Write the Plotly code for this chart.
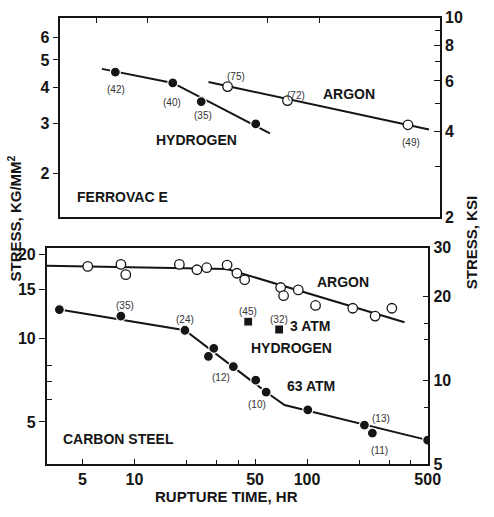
import math
import plotly.graph_objects as go

# ---------------- data ----------------
# Carbon steel (bottom panel)
cs_argon_time = [5.36, 8.34, 8.9, 18.2, 23.0, 26.2, 34.4, 39.2, 43.5, 70.3, 73.1, 88.9, 112, 184, 248, 310]
cs_argon_stress = [18.1, 18.4, 16.9, 18.4, 17.6, 17.9, 18.3, 17.1, 16.2, 15.2, 14.2, 14.9, 13.1, 12.8, 12.0, 12.8]
cs_argon_fit_time = [3.1, 34.4, 367]
cs_argon_fit_stress = [18.2, 17.7, 11.4]

cs_h63_time = [3.67, 8.34, 19.6, 28.8, 26.8, 37.4, 50.4, 57.9, 101, 215, 239, 500]
cs_h63_stress = [12.66, 12.0, 10.67, 9.19, 8.6, 7.9, 7.06, 6.4, 5.52, 4.87, 4.56, 4.3]
cs_h63_labels = ["", "(35)", "(24)", "", "", "(12)", "", "(10)", "", "(13)", "(11)", ""]
cs_h63_fit_time = [3.67, 19.6, 57.9, 74, 500]
cs_h63_fit_stress = [12.66, 10.67, 6.4, 5.75, 4.3]

cs_h3_time = [45.6, 68.9]
cs_h3_stress = [11.46, 10.74]
cs_h3_labels = ["(45)", "(32)"]

# Ferrovac E (top panel)
fe_h_time = [6.48, 14.0, 20.5, 42.6]
fe_h_stress = [4.53, 4.15, 3.57, 2.98]
fe_h_labels = ["(42)", "(40)", "(35)", ""]
fe_h_fit_time = [5.41, 14.0, 51.5]
fe_h_fit_stress = [4.65, 4.15, 2.76]

fe_argon_time = [29.2, 65.2, 328]
fe_argon_stress = [4.03, 3.60, 2.96]
fe_argon_labels = ["(75)", "(72)", "(49)"]
fe_argon_fit_time = [22.6, 435]
fe_argon_fit_stress = [4.18, 2.85]

# axis ticks
time_ticks = [5, 10, 50, 100, 500]
time_minor = [20, 30, 40, 200, 300, 400]
cs_kg_ticks = [5, 10, 15, 20]
cs_kg_minor = [6, 7, 8]
cs_ksi_ticks = [5, 10, 20, 30]
cs_ksi_minor = [8, 14, 16]
fe_kg_ticks = [2, 3, 4, 5, 6]
fe_ksi_ticks = [2, 4, 6, 8, 10]
fe_ksi_minor = [3, 5, 7, 9]

KSI_PER_KG = 1.422
time_range = [3.1, 505]
cs_ksi_range = [5, 30]
fe_ksi_range = [2, 10]
cs_kg_range = [v / KSI_PER_KG for v in cs_ksi_range]
fe_kg_range = [v / KSI_PER_KG for v in fe_ksi_range]

# ---------------- styles ----------------
INK = "#151515"
FONT = "Liberation Sans"
W, H = 494, 517

cs_h63_shift = [(0, 0), (4, 11), (0, 11), (0, 0), (0, 0), (-12, -11), (0, 0), (-9, -12), (0, 0), (17, 7), (7, -17), (0, 0)]
cs_h3_shift = [(0, 10), (0, 10)]
fe_h_shift = [(1, -17), (-1, -20), (2, -14), (0, 0)]
fe_argon_shift = [(8, 10), (9, 5), (3, -18)]

L10 = math.log10

fig = go.Figure()

def fit_line(t, s, xa, ya):
    fig.add_trace(go.Scatter(x=t, y=s, xaxis=xa, yaxis=ya, mode="lines",
                             line=dict(color=INK, width=2), hoverinfo="skip"))

def open_pts(t, s, xa, ya):
    fig.add_trace(go.Scatter(x=t, y=s, xaxis=xa, yaxis=ya, mode="markers",
                             marker=dict(symbol="circle", size=9.5, color="white",
                                         line=dict(color=INK, width=1.3)), hoverinfo="skip"))

def filled_pts(t, s, xa, ya, symbol="circle", size=10):
    fig.add_trace(go.Scatter(x=t, y=s, xaxis=xa, yaxis=ya, mode="markers",
                             marker=dict(symbol=symbol, size=size, color=INK,
                                         line=dict(color="white", width=1.2)), hoverinfo="skip"))

# bottom panel
fit_line(cs_argon_fit_time, cs_argon_fit_stress, "x", "y")
fit_line(cs_h63_fit_time, cs_h63_fit_stress, "x", "y")
open_pts(cs_argon_time, cs_argon_stress, "x", "y")
filled_pts(cs_h63_time, cs_h63_stress, "x", "y")
filled_pts(cs_h3_time, cs_h3_stress, "x", "y", symbol="square", size=9)
# top panel
fit_line(fe_h_fit_time, fe_h_fit_stress, "x2", "y3")
fit_line(fe_argon_fit_time, fe_argon_fit_stress, "x2", "y3")
filled_pts(fe_h_time, fe_h_stress, "x2", "y3")
open_pts(fe_argon_time, fe_argon_stress, "x2", "y3")
# invisible traces so that the ksi axes are drawn
fig.add_trace(go.Scatter(x=[time_ticks[1]], y=[cs_ksi_ticks[1]], xaxis="x", yaxis="y2", mode="markers",
                         marker=dict(opacity=0), hoverinfo="skip"))
fig.add_trace(go.Scatter(x=[time_ticks[1]], y=[fe_ksi_ticks[1]], xaxis="x2", yaxis="y4", mode="markers",
                         marker=dict(opacity=0), hoverinfo="skip"))

annotations = []

def point_labels(t, s, labels, shifts, xr, yr):
    for ti, si, lab, (dx, dy) in zip(t, s, labels, shifts):
        if not lab:
            continue
        annotations.append(dict(x=L10(ti), y=L10(si), xref=xr, yref=yr, text=lab,
                                showarrow=False, xshift=dx, yshift=dy,
                                font=dict(family=FONT, size=10, color="#333")))

point_labels(cs_h63_time, cs_h63_stress, cs_h63_labels, cs_h63_shift, "x", "y")
point_labels(cs_h3_time, cs_h3_stress, cs_h3_labels, cs_h3_shift, "x", "y")
point_labels(fe_h_time, fe_h_stress, fe_h_labels, fe_h_shift, "x2", "y3")
point_labels(fe_argon_time, fe_argon_stress, fe_argon_labels, fe_argon_shift, "x2", "y3")

def px_text(text, px, py, size=14, angle=0, anchor="center"):
    annotations.append(dict(x=px / W, y=1 - py / H, xref="paper", yref="paper", text=text,
                            showarrow=False, textangle=angle, xanchor=anchor, yanchor="middle",
                            font=dict(family=FONT, size=size, color=INK, weight="bold")))

px_text("ARGON", 352, 283)
px_text("3 ATM", 318, 329)
px_text("HYDROGEN", 299, 352)
px_text("63 ATM", 319, 391)
px_text("CARBON STEEL", 122, 446)
px_text("ARGON", 358, 89)
px_text("HYDROGEN", 202, 136)
px_text("FERROVAC E", 126, 195)
px_text("STRESS, KG/MM<sup>2</sup>", 15, 218, size=15, angle=-90)
px_text("STRESS, KSI", 484, 243, size=15, angle=-90)
px_text("RUPTURE TIME, HR", 233, 505, size=15)

tickfont = dict(family=FONT, size=16, color=INK, weight="bold")

bottom_x_dom = [48 / W, 440 / W]
top_x_dom = [62 / W, 452 / W]
bottom_y_dom = [1 - 472 / H, 1 - 248 / H]
top_y_dom = [1 - 216 / H, 1 - 10 / H]

common_axis = dict(showgrid=False, zeroline=False, showline=True, linecolor=INK, linewidth=1.6,
                   tickcolor=INK, tickwidth=1.4, type="log")
minor_in = dict(ticks="inside", ticklen=5, tickcolor=INK, tickwidth=1.2)

fig.update_layout(
    autosize=True, margin=dict(l=0, r=0, t=0, b=0),
    plot_bgcolor="white", paper_bgcolor="white", showlegend=False,
    xaxis=dict(**common_axis, domain=bottom_x_dom, anchor="y", range=[L10(v) for v in time_range],
               tickvals=time_ticks, ticktext=[str(v) for v in time_ticks], ticks="inside", ticklen=6,
               minor=dict(tickvals=time_minor, **minor_in), mirror=True, tickfont=tickfont),
    yaxis=dict(**common_axis, domain=bottom_y_dom, anchor="x", range=[L10(v) for v in cs_kg_range],
               tickvals=cs_kg_ticks, ticktext=[str(v) for v in cs_kg_ticks], ticks="outside", ticklen=6,
               minor=dict(tickvals=cs_kg_minor, **minor_in), tickfont=tickfont),
    yaxis2=dict(**common_axis, domain=bottom_y_dom, anchor="x", overlaying="y", side="right",
                range=[L10(v) for v in cs_ksi_range], tickvals=cs_ksi_ticks,
                ticktext=[str(v) for v in cs_ksi_ticks], ticks="inside", ticklen=6,
                minor=dict(tickvals=cs_ksi_minor, **minor_in), tickfont=tickfont),
    xaxis2=dict(**common_axis, domain=top_x_dom, anchor="y3", side="top", range=[L10(v) for v in time_range],
                tickvals=time_ticks, ticks="inside", ticklen=6, showticklabels=False, mirror=True),
    yaxis3=dict(**common_axis, domain=top_y_dom, anchor="x2", range=[L10(v) for v in fe_kg_range],
                tickvals=fe_kg_ticks, ticktext=[str(v) for v in fe_kg_ticks], ticks="outside", ticklen=6,
                tickfont=tickfont),
    yaxis4=dict(**common_axis, domain=top_y_dom, anchor="x2", overlaying="y3", side="right",
                range=[L10(v) for v in fe_ksi_range], tickvals=fe_ksi_ticks,
                ticktext=[str(v) for v in fe_ksi_ticks], ticks="inside", ticklen=6,
                minor=dict(tickvals=fe_ksi_minor, **minor_in), tickfont=tickfont),
    annotations=annotations,
)

fig.write_html("out.html", config={"displayModeBar": False},
               default_width="494px; position:absolute; left:0px; top:0px",
               default_height="517px",
               post_script="document.body.style.margin='0';")
